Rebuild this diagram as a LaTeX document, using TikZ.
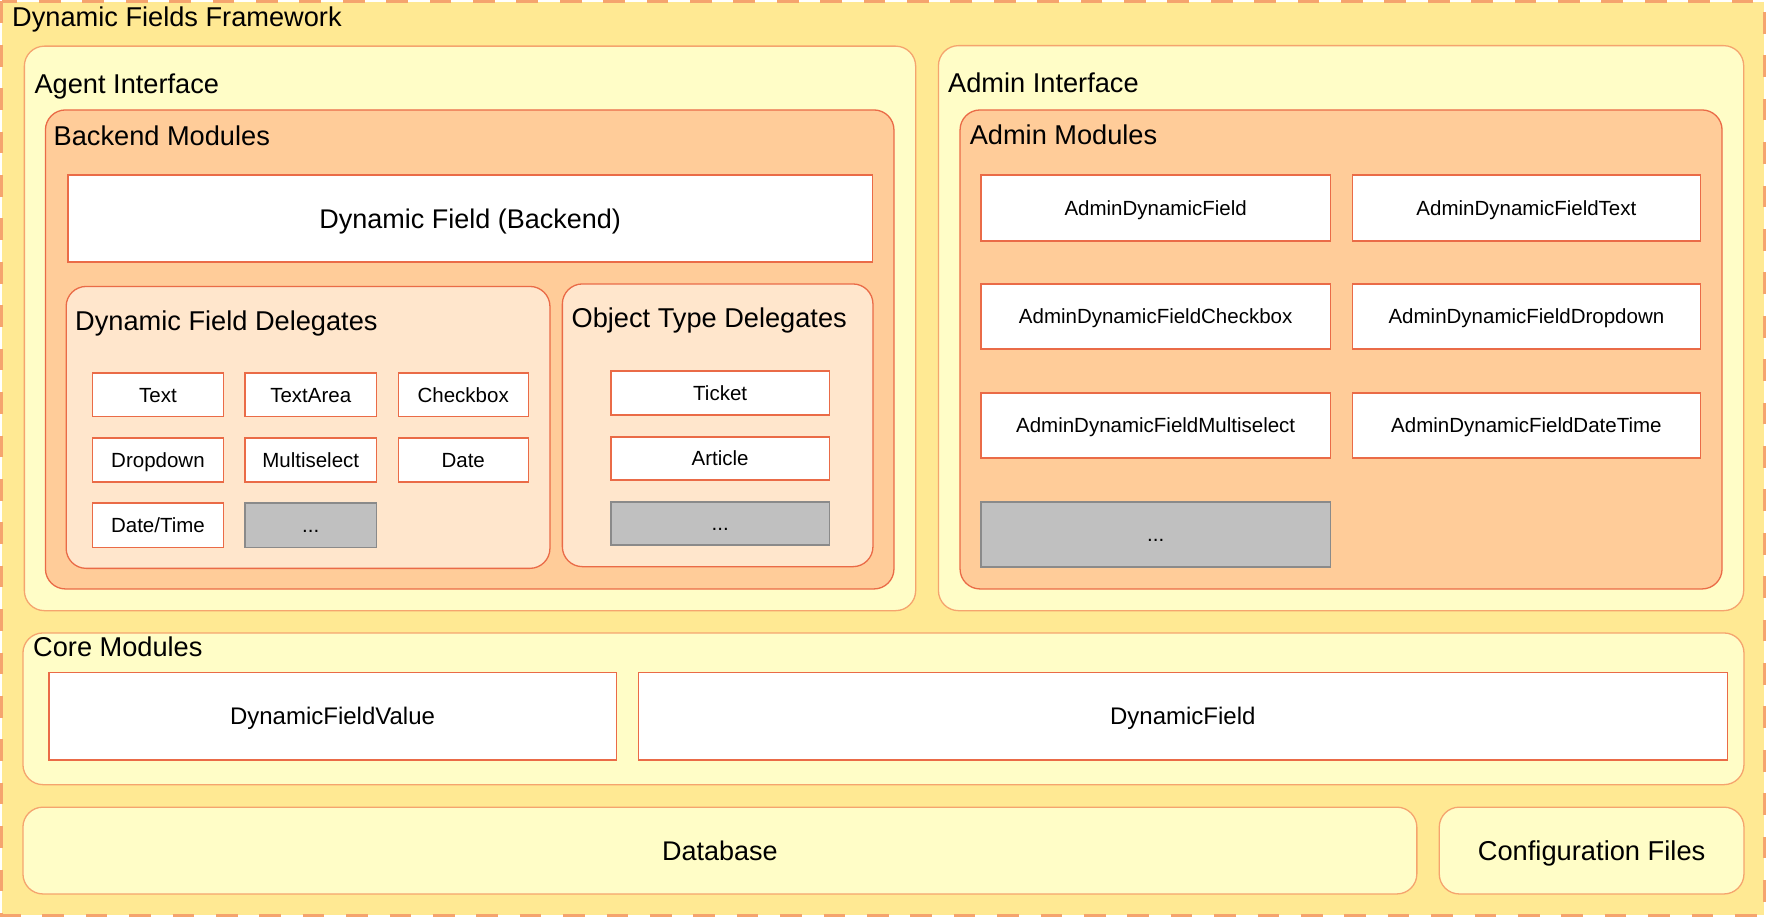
\documentclass[tikz,border=0pt]{standalone}
\usepackage{fontspec}
\setmainfont{Liberation Sans}
\definecolor{outerY}{HTML}{FFE993}
\definecolor{lightY}{HTML}{FFFDC7}
\definecolor{contB}{HTML}{F5A46E}
\definecolor{peach}{HTML}{FFCC99}
\definecolor{lpeach}{HTML}{FFE6CC}
\definecolor{redB}{HTML}{EA6B47}
\definecolor{grayF}{HTML}{C0C0C0}
\definecolor{grayB}{HTML}{8A8A8A}
\newcommand\mkbox[7]{\node[#1,anchor=north west,inner sep=0pt,minimum width={#5pt-#3pt},minimum height={#6pt-#4pt}] (#2) at (#3,#4) {#7};}
\tikzset{
  container/.style={draw=contB,fill=lightY,rounded corners=20pt,line width=1.3pt},
  modbox/.style={draw=redB,fill=peach,rounded corners=20pt,line width=1.3pt},
  delbox/.style={draw=redB,fill=lpeach,rounded corners=20pt,line width=1.3pt},
  item/.style={draw=redB,fill=white,line width=1.3pt,font=\fontsize{20.5}{24}\selectfont,text height=14.7pt,text depth=0pt},
  grayitem/.style={item,draw=grayB,fill=grayF},
  coreitem/.style={item,font=\fontsize{24}{28}\selectfont,text height=17.2pt},
  bigitem/.style={item,font=\fontsize{27}{32}\selectfont,text height=19.3pt},
  dbbox/.style={container,font=\fontsize{27}{32}\selectfont,text height=19.3pt,text depth=0pt},
  cfgbox/.style={container,font=\fontsize{27.3}{32}\selectfont,text height=19.5pt,text depth=0pt},
  ttl/.style={anchor=base west,inner sep=0pt,font=\fontsize{27.2}{32}\selectfont}
}
\begin{document}
\begin{tikzpicture}[x=1pt,y=-1pt]
\useasboundingbox (0,0) rectangle (1766,917);
\fill[white] (0,0) rectangle (1766,917);
\fill[outerY] (2,2) rectangle (1764,915);
\draw[contB,line width=3pt,dash pattern=on 21.7pt off 21.7pt] (1.5,1.5) rectangle (1764.5,915.5);
\node[ttl] (tFrame) at (12,27) {Dynamic Fields Framework};
% Agent interface
\mkbox{container}{agent}{23.7}{45.5}{915}{610}{}
\node[ttl] (tAgent) at (34.4,93.3) {Agent Interface};
\mkbox{modbox}{backend}{44.8}{109.3}{893.3}{588.3}{}
\node[ttl] (tBackend) at (53.5,145.7) {Backend Modules};
\mkbox{bigitem}{dfb}{67.4}{174.3}{871.8}{261.3}{Dynamic Field (Backend)}
\mkbox{delbox}{dfd}{65.5}{285.8}{549.3}{567.7}{}
\node[ttl] (tDfd) at (75,330.9) {Dynamic Field Delegates};
\mkbox{item}{dText}{91.9}{372.3}{222.7}{415.7}{Text}
\mkbox{item}{dTextArea}{244.3}{372.3}{375.8}{415.7}{TextArea}
\mkbox{item}{dCheckbox}{397.5}{372.3}{527.6}{415.7}{Checkbox}
\mkbox{item}{dDropdown}{91.9}{437.3}{222.7}{481.3}{Dropdown}
\mkbox{item}{dMulti}{244.3}{437.3}{375.8}{481.3}{Multiselect}
\mkbox{item}{dDate}{397.5}{437.3}{527.6}{481.3}{Date}
\mkbox{item}{dDateTime}{91.9}{502.3}{222.7}{546.7}{Date/Time}
\mkbox{grayitem}{dMore}{244.3}{502.3}{375.8}{546.7}{...}
\mkbox{delbox}{otd}{561.7}{283.3}{872.3}{566}{}
\node[ttl] (tOtd) at (571.4,327.3) {Object Type Delegates};
\mkbox{item}{oTicket}{610.3}{370.3}{828.7}{414.3}{Ticket}
\mkbox{item}{oArticle}{610.3}{436.3}{828.7}{479.3}{Article}
\mkbox{grayitem}{oMore}{610.3}{501.3}{828.7}{544.3}{...}
% Admin interface
\mkbox{container}{admin}{937.8}{45}{1743}{610}{}
\node[ttl] (tAdmin) at (948,92.3) {Admin Interface};
\mkbox{modbox}{adminmod}{959.4}{109.3}{1721.4}{588.3}{}
\node[ttl] (tAdminMod) at (969.6,145) {Admin Modules};
\mkbox{item}{aDF}{980.4}{174.3}{1329.6}{240.3}{AdminDynamicField}
\mkbox{item}{aDFText}{1351.7}{174.3}{1699.8}{240.3}{AdminDynamicFieldText}
\mkbox{item}{aDFCheck}{980.4}{283.3}{1329.6}{348.3}{AdminDynamicFieldCheckbox}
\mkbox{item}{aDFDrop}{1351.7}{283.3}{1699.8}{348.3}{AdminDynamicFieldDropdown}
\mkbox{item}{aDFMulti}{980.4}{392.3}{1329.6}{457.3}{AdminDynamicFieldMultiselect}
\mkbox{item}{aDFDT}{1351.7}{392.3}{1699.8}{457.3}{AdminDynamicFieldDateTime}
\mkbox{grayitem}{aMore}{980.4}{501.3}{1329.6}{566.3}{...}
% Core modules
\mkbox{container}{core}{22.3}{632.3}{1743.3}{784}{}
\node[ttl] (tCore) at (33,656.7) {Core Modules};
\mkbox{coreitem}{cDFV}{48.2}{672}{615.6}{759.3}{DynamicFieldValue}
\mkbox{coreitem}{cDF}{637.5}{672}{1726.7}{759.3}{DynamicField}
% Bottom
\mkbox{dbbox}{db}{22.3}{806.5}{1416.2}{893.3}{Database}
\mkbox{cfgbox}{cfg}{1438.6}{806.5}{1743.3}{893.3}{Configuration Files}
\end{tikzpicture}
\end{document}
